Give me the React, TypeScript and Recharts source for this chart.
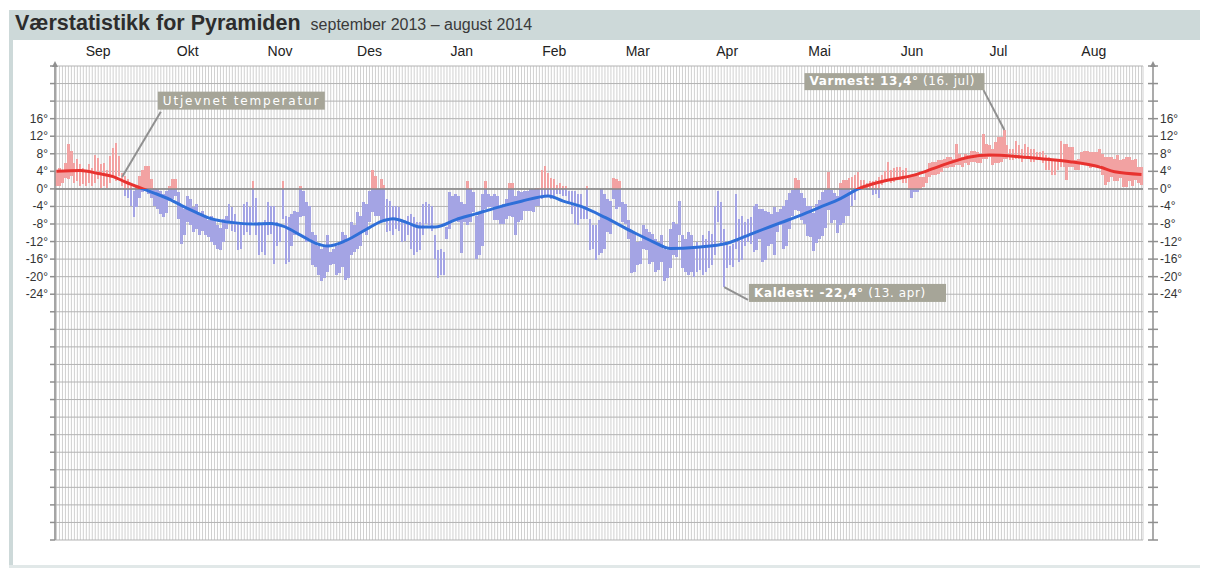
import React from 'react';
import {
  ComposedChart, Bar, Line, XAxis, YAxis, CartesianGrid, ReferenceLine, ReferenceDot,
} from 'recharts';

const monthNames = ['Sep', 'Okt', 'Nov', 'Des', 'Jan', 'Feb', 'Mar', 'Apr', 'Mai', 'Jun', 'Jul', 'Aug'];
const monthLabelDays = [14, 44, 75, 105, 136, 167, 195, 225, 256, 287, 316, 348];

const yTicks = [28, 24, 20, 16, 12, 8, 4, 0, -4, -8, -12, -16, -20, -24, -28, -32, -36, -40, -44, -48, -52, -56, -60, -64, -68, -72, -76, -80];
const yLabelTicks = [16, 12, 8, 4, 0, -4, -8, -12, -16, -20, -24];

// daily max, sep 2013 -> aug 2014 (one row per month)
const dailyMax = [
  4.4, 4.8, 4.4, 6.0, 10.3, 8.6, 6.0, 6.7, 5.6, 4.8, 4.4, 5.6, 4.8, 7.8, 7.0, 5.6, 6.0, 4.4, 7.4, 9.3, 10.5, 7.4, 3.7, 2.9, 2.2, 0.7, -0.5, 0.7, 2.9, 4.4,
  5.2, 5.3, 2.2, 0.3, -0.1, -0.5, -1.2, -0.5, 0.7, 2.2, 2.2, -0.8, -4.2, -4.6, -1.6, -2.3, -4.2, -3.4, -5.4, -5.0, -6.1, -7.2, -6.1, -6.8, -8.3, -9.0, -6.8, -6.1, -3.4, -4.2, -5.7,
  -7.6, -8.0, -3.5, -3.1, -4.2, 1.8, -2.0, -7.6, -8.3, -7.2, -3.1, -3.8, -3.8, -7.6, -8.0, 1.8, -6.1, -6.5, -5.7, -5.0, -5.3, 0.7, -0.5, -3.1, -3.8, -9.8, -10.6, -12.9, -13.6, -13.2,
  -10.6, -14.4, -13.6, -12.9, -12.1, -9.8, -10.6, -11.4, -7.6, -8.3, -5.3, -6.1, -3.1, -3.5, -0.5, 4.4, 3.0, -0.1, 2.2, 1.0, -2.3, -2.7, -3.8, -3.8, -4.2, -6.8, -7.2, -6.1, -5.7, -6.5, -7.6,
  -7.6, -3.5, -3.1, -3.5, -3.8, -10.6, -14.0, -13.6, -14.4, -8.7, -0.8, -1.6, -1.2, -1.6, -3.1, -3.5, 1.8, 0.3, -0.8, -6.1, -5.7, -1.2, 1.8, -1.2, -1.6, -1.2, -1.6, -3.8, -3.5, -2.3, 1.4,
  1.4, -1.6, -0.5, -0.8, -0.5, -0.5, -0.1, -0.1, 0.3, 0.3, 4.4, 5.2, 3.7, 2.5, 2.2, 1.0, 1.4, 0.7, 0.7, -0.5, -0.5, -0.5, -1.2, -1.2, -3.8, 0.7, -6.8, -8.3,
  -8.3, -7.0, -0.1, -1.2, -2.3, -2.7, 2.5, 2.2, 1.8, -3.1, -3.5, -7.2, -9.8, -10.2, -12.1, -11.8, -8.3, -9.1, -9.8, -10.2, -11.4, -12.1, -10.6, -13.6, -14.0, -9.1, -7.6, -8.0, -2.7, -10.6, -11.4,
  -9.8, -10.6, -12.9, -12.1, -12.9, -10.6, -11.4, -9.5, -10.2, -3.8, -0.5, -3.1, -9.1, -12.1, -12.9, -12.5, -1.2, -6.8, -6.1, -7.6, -6.8, -6.5, -3.8, -3.5, -4.6, -4.6, -5.0, -5.3, -5.7, -4.2,
  -5.3, -4.6, -4.0, -2.5, -1.0, -0.2, 2.4, 2.0, -1.0, -2.0, -4.0, -4.0, -5.5, -3.5, -2.5, -0.6, -0.2, 3.9, -0.2, -1.0, -1.7, 1.3, 2.0, 2.0, 2.4, 2.8, 3.2, 3.9, 2.0, 2.0, 1.3,
  1.7, 1.7, 2.0, 2.8, 3.2, 4.0, 6.2, 4.3, 4.7, 5.0, 5.0, 4.3, 4.7, 2.8, 3.2, 3.5, 3.2, 2.8, 2.8, 3.9, 5.8, 6.2, 6.2, 6.5, 6.5, 6.9, 7.3, 7.3, 6.9, 10.3,
  8.0, 7.3, 8.0, 7.7, 8.7, 8.7, 8.4, 8.0, 12.6, 10.3, 10.0, 9.2, 10.7, 11.8, 11.8, 13.4, 10.0, 9.2, 9.2, 11.0, 10.0, 9.2, 10.3, 9.6, 9.2, 9.2, 8.4, 8.4, 8.7, 7.7, 7.3,
  6.5, 6.5, 6.9, 11.0, 10.3, 10.3, 9.6, 9.6, 6.5, 6.9, 8.4, 8.7, 8.7, 8.4, 8.4, 8.4, 9.2, 8.0, 7.3, 7.3, 7.3, 6.9, 7.7, 6.5, 6.9, 7.3, 7.3, 6.5, 6.9, 5.0, 5.0,
];

const dailyMin = [
  0.7, 0.7, 1.4, 2.5, 2.2, 2.9, 1.4, 1.8, 0.7, 1.1, 0.7, 1.4, 0.7, 1.4, 2.2, 0.3, 0.7, 0.3, 1.4, 2.5, 1.8, 2.9, 0.7, -1.6, -2.0, -3.8, -6.5, -4.2, -2.0, -0.8,
  -0.5, -1.2, -2.0, -3.8, -4.6, -5.7, -6.5, -5.4, -2.7, -2.3, -1.6, -6.8, -12.5, -10.6, -7.6, -8.3, -9.8, -9.2, -10.6, -9.5, -10.6, -11.0, -12.1, -12.8, -13.6, -14.0, -12.1, -9.2, -7.6, -9.5, -9.8,
  -14.0, -13.6, -10.6, -9.8, -10.6, -7.6, -10.6, -15.1, -14.4, -15.1, -10.6, -10.2, -17.0, -12.9, -12.1, -6.8, -17.0, -16.6, -12.9, -10.6, -10.2, -6.5, -6.1, -12.1, -11.4, -17.4, -17.7, -19.6, -21.1, -20.4,
  -18.9, -17.4, -17.0, -19.6, -19.2, -17.7, -20.8, -20.4, -15.1, -14.4, -13.6, -12.9, -9.8, -10.6, -7.6, -5.3, -6.1, -6.1, -7.6, -7.2, -9.8, -9.5, -10.6, -9.1, -9.5, -12.1, -11.8, -10.6, -13.6, -15.1, -14.4,
  -14.0, -10.6, -8.0, -8.3, -9.5, -15.9, -20.4, -19.6, -19.6, -11.4, -9.1, -7.6, -7.2, -7.6, -14.7, -7.6, -8.3, -7.6, -5.3, -15.9, -15.1, -12.9, -4.6, -4.2, -4.2, -7.2, -7.2, -8.0, -8.0, -6.8, -6.1,
  -6.5, -10.6, -7.6, -7.2, -5.0, -5.0, -5.0, -5.3, -3.8, -3.8, -2.3, -1.6, -1.6, -2.3, -2.3, -1.2, -1.2, -1.6, -1.6, -3.1, -5.7, -8.0, -8.3, -6.8, -6.8, -6.8, -14.0, -13.6,
  -16.2, -15.1, -14.7, -13.6, -9.8, -10.2, -2.3, -4.6, -4.2, -7.6, -8.0, -11.4, -19.2, -18.9, -17.4, -17.0, -13.6, -14.0, -17.0, -16.6, -18.9, -18.5, -16.6, -21.1, -20.4, -18.1, -15.1, -15.5, -10.6, -18.1, -18.9,
  -19.6, -18.9, -20.0, -18.9, -18.5, -19.6, -18.9, -18.1, -17.4, -15.1, -7.6, -12.9, -22.4, -18.1, -17.4, -17.7, -13.6, -16.6, -16.2, -12.9, -12.1, -12.5, -14.4, -14.0, -11.4, -16.6, -16.2, -12.9, -12.5, -15.1,
  -9.8, -8.3, -13.8, -12.9, -9.1, -6.2, -4.7, -5.0, -7.0, -8.0, -10.7, -11.0, -14.1, -12.3, -11.4, -10.7, -8.8, -4.7, -7.7, -7.0, -10.0, -8.3, -7.7, -6.2, -6.2, -4.0, -2.5, -0.2, 0.5, 0.5, -0.2,
  -0.2, -1.4, -1.2, -2.1, 0.9, 1.5, 1.7, 1.3, 1.5, 2.0, 2.0, 1.3, 1.3, -0.2, -2.1, -0.6, -0.6, -0.2, 0.5, 1.3, 2.8, 3.2, 3.2, 3.5, 3.9, 4.7, 4.7, 5.0, 5.0, 5.4,
  5.4, 5.0, 5.8, 5.4, 6.2, 6.2, 5.8, 5.8, 6.9, 6.9, 7.3, 5.4, 5.8, 5.8, 6.2, 6.9, 6.9, 6.5, 6.5, 6.9, 6.9, 6.2, 7.3, 7.0, 6.2, 6.2, 6.5, 6.5, 5.8, 4.3, 4.3,
  3.2, 3.2, 4.3, 5.0, 5.0, 2.0, 5.0, 5.0, 4.3, 4.3, 5.8, 5.8, 5.8, 4.7, 5.0, 5.4, 5.4, 3.2, 0.9, 1.5, 2.8, 1.7, 1.7, 2.4, 0.5, 0.5, 1.7, 0.7, 2.0, 1.3, 0.9,
];

// smoothed temperature ("utjevnet"), read at these days
const smoothDays = [0, 8, 14, 19, 23, 29, 33, 38, 42, 47, 51, 56, 61, 66, 72, 76, 82, 87, 91, 97, 104, 109, 113, 118, 122, 127, 134, 140, 148, 156, 165, 170, 176, 184, 193, 200, 206, 215, 225, 234, 243, 250, 256, 263, 269, 277, 288, 294, 299, 306, 313, 322, 331, 340, 350, 355, 364];
const smoothTemps = [4.0, 4.2, 3.5, 2.8, 1.6, 0, -1.0, -2.4, -3.8, -5.4, -6.6, -7.4, -7.8, -8.0, -7.9, -8.5, -10.6, -12.4, -13.0, -11.8, -9.2, -7.4, -6.8, -7.8, -8.7, -8.7, -7.0, -5.8, -4.2, -2.8, -1.6, -2.8, -4.0, -6.5, -9.7, -12.0, -13.6, -13.3, -12.4, -10.0, -7.7, -5.9, -4.2, -2.2, 0, 1.7, 3.2, 4.6, 5.8, 7.2, 7.7, 7.4, 6.8, 6.2, 5.0, 3.9, 3.3];

const smoothByDay = new Map(smoothDays.map((d, i) => [d, smoothTemps[i]]));
const data = dailyMax.map((mx, i) => ({
  day: i,
  range: [dailyMin[i], mx],
  smooth: smoothByDay.has(i) ? smoothByDay.get(i) : null,
}));

const sMax = Math.max(...smoothTemps);
const sMin = Math.min(...smoothTemps);
const zeroOffset = sMax / (sMax - sMin);

const PINK = '#f2a2a2';
const LILAC = '#a4a4e4';
const AXIS = '#8f8f8f';

// split each day bar at 0°: pink above, lilac below
const DayBar = (props: any) => {
  const { x, y, width, height, payload } = props;
  if (x == null || y == null) return null;
  const top = Math.min(y, y + height);
  const h = Math.abs(height);
  const [lo, hi] = payload.range;
  const span = hi - lo;
  if (span <= 0) return null;
  const zy = top + (h * hi) / span;
  return (
    <g shapeRendering="crispEdges">
      {hi > 0 && <rect x={x} y={top} width={width} height={Math.min(zy, top + h) - top} fill={PINK} />}
      {lo < 0 && <rect x={x} y={Math.max(zy, top)} width={width} height={top + h - Math.max(zy, top)} fill={LILAC} />}
    </g>
  );
};

const LeftTick = ({ x, y, payload }: any) => (
  <g>
    <line x1={x - 5} x2={x} y1={y} y2={y} stroke={AXIS} strokeWidth={1.5} />
    {yLabelTicks.includes(payload.value) && (
      <text x={x - 7} y={y} dy={4} textAnchor="end" fontSize={12} fill="#333">{`${payload.value}°`}</text>
    )}
  </g>
);

const RightTick = ({ x, y, payload }: any) => (
  <g>
    <line x1={x - 5} x2={x + 5} y1={y} y2={y} stroke={AXIS} strokeWidth={1.5} />
    {yLabelTicks.includes(payload.value) && (
      <text x={x + 7} y={y} dy={4} textAnchor="start" fontSize={12} fill="#333">{`${payload.value}°`}</text>
    )}
  </g>
);

const axisArrow = (side: 'left' | 'right') => (p: any) => {
  const vb = p.viewBox;
  if (!vb) return null;
  const ax = side === 'left' ? vb.x + vb.width : vb.x;
  const ay = vb.y;
  return <polygon points={`${ax},${ay - 5} ${ax - 3},${ay + 1} ${ax + 3},${ay + 1}`} fill={AXIS} />;
};

const NoteBox = ({ cx, cy, dx, dy, w, h, bold, normal, spacing }: any) => {
  const bx = cx + dx;
  const by = cy + dy;
  return (
    <g>
      <rect x={bx} y={by} width={w} height={h} fill="#a6a598" />
      <text x={bx + 5} y={by + h - 5} fill="#fff" fontSize={12} fontFamily="DejaVu Sans" letterSpacing={spacing ?? 0.6}>
        {bold && <tspan fontWeight="bold">{bold}</tspan>}
        {normal && <tspan>{normal}</tspan>}
      </text>
    </g>
  );
};

const monthLabel = (d: number) => {
  const idx = monthLabelDays.indexOf(d);
  return idx >= 0 ? monthNames[idx] : '';
};

export default function App() {
  return (
    <div style={{ position: 'absolute', left: 0, top: 0, width: 1214, height: 568, background: '#fff', fontFamily: '"Liberation Sans", Arial, sans-serif' }}>
      <div style={{ position: 'absolute', left: 9, top: 10, width: 1191, height: 30, background: '#cdd9d9' }} />
      <div style={{ position: 'absolute', left: 9, top: 40, width: 4, height: 526, background: '#cdd9d9' }} />
      <div style={{ position: 'absolute', left: 9, top: 565, width: 1191, height: 3, background: '#e1e8e8' }} />
      <div style={{ position: 'absolute', left: 15, top: 11, whiteSpace: 'nowrap', color: '#2d2d2d' }}>
        <span style={{ fontSize: 21.5, fontWeight: 'bold' }}>Værstatistikk for Pyramiden</span>
        <span style={{ fontSize: 16, marginLeft: 10, color: '#3a3a3a' }}>september 2013 – august 2014</span>
      </div>
      <div style={{ position: 'absolute', left: 0, top: 0 }}>
        <ComposedChart width={1200} height={568} data={data} margin={{ top: 46, right: 0, bottom: 28, left: 0 }} barCategoryGap={0}>
          <defs>
            <linearGradient id="smoothGrad" x1="0" y1="0" x2="0" y2="1">
              <stop offset={zeroOffset} stopColor="#e8322f" />
              <stop offset={zeroOffset} stopColor="#2f6fd8" />
            </linearGradient>
          </defs>
          <CartesianGrid horizontal={false} stroke="#d0d0d0" />
          <CartesianGrid vertical={false} stroke="#b3b3b3" />
          <XAxis
            dataKey="day"
            orientation="top"
            interval={0}
            tickLine={false}
            axisLine={false}
            height={20}
            tickSize={8}
            tickFormatter={monthLabel}
            tick={{ fontSize: 14, fill: '#222' }}
          />
          <YAxis
            domain={[-80, 28]}
            ticks={yTicks}
            interval={0}
            width={55}
            tickSize={0}
            tickMargin={0}
            axisLine={{ stroke: AXIS, strokeWidth: 1.5 }}
            tickLine={false}
            tick={<LeftTick />}
            label={{ content: axisArrow('left') }}
          />
          <YAxis yAxisId="gap" orientation="right" width={10} tick={false} axisLine={false} tickLine={false} />
          <YAxis
            yAxisId="r"
            orientation="right"
            domain={[-80, 28]}
            ticks={yTicks}
            interval={0}
            width={47}
            tickSize={0}
            tickMargin={0}
            axisLine={{ stroke: AXIS, strokeWidth: 1.5 }}
            tickLine={false}
            tick={<RightTick />}
            label={{ content: axisArrow('right') }}
          />
          <ReferenceLine y={0} stroke="#858585" strokeWidth={1.5} />
          <Bar dataKey="range" barSize={2.6} shape={DayBar} isAnimationActive={false} />
          <Line
            dataKey="smooth"
            type="monotone"
            connectNulls
            stroke="url(#smoothGrad)"
            strokeWidth={3}
            dot={false}
            activeDot={false}
            isAnimationActive={false}
          />
          {/* invisible copy so the right-hand axis gets its ticks */}
          <Line yAxisId="r" dataKey="smooth" connectNulls stroke="none" dot={false} activeDot={false} isAnimationActive={false} />
          <ReferenceLine segment={[{ x: 22, y: 2.7 }, { x: 35, y: 17.6 }]} stroke="#909090" strokeWidth={2} />
          <ReferenceLine segment={[{ x: 318, y: 13.4 }, { x: 311, y: 22.5 }]} stroke="#909090" strokeWidth={2} />
          <ReferenceLine segment={[{ x: 224, y: -22.4 }, { x: 232, y: -25.3 }]} stroke="#909090" strokeWidth={2} />
          <ReferenceDot x={35} y={17.6} shape={(p: any) => <NoteBox {...p} dx={-3} dy={-20} w={167} h={18} normal="Utjevnet temperatur" spacing={1.8} />} />
          <ReferenceDot x={311} y={22.5} shape={(p: any) => <NoteBox {...p} dx={-179} dy={-17} w={180} h={17} bold="Varmest: 13,4°" normal="  (16. jul)" />} />
          <ReferenceDot x={232} y={-25.3} shape={(p: any) => <NoteBox {...p} dx={1} dy={-16} w={197} h={18} bold="Kaldest: -22,4°" normal="  (13. apr)" />} />
        </ComposedChart>
      </div>
    </div>
  );
}
